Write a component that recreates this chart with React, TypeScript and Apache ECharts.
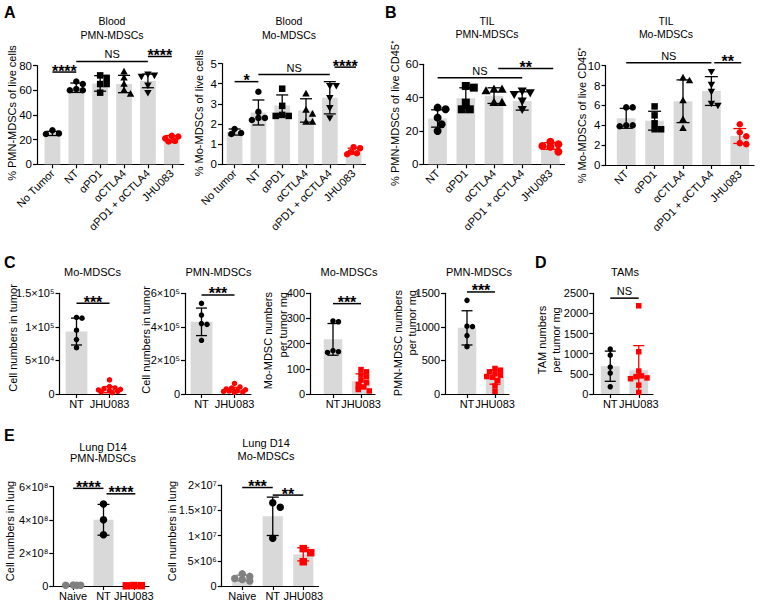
import React, { useEffect, useRef } from "react";
import * as echarts from "echarts";

// ---------------- DATA ----------------
const aPmnCats = ["No Tumor", "NT", "αPD1", "αCTLA4", "αPD1 + αCTLA4", "JHU083"];
const aPmnMeans = [25, 62, 65.5, 65, 67.5, 20.5];
const aPmnSds = [1.7, 3.8, 6.3, 7, 5.5, 2.8];
const aPmnPoints = [
  [27.5, 24.5, 25],
  [67, 65, 61, 60, 60],
  [72, 70, 65, 65, 58],
  [75, 70, 65, 60, 57],
  [73, 72, 71, 64, 58],
  [23, 22.5, 21, 19, 18.5],
];
const aPmnSig = [[0, 1, 74.7, "****"], [1, 4, 83.3, "NS"], [4, 5, 87.3, "****"]];

const aMoCats = ["No tumor", "NT", "αPD1", "αCTLA4", "αPD1 + αCTLA4", "JHU083"];
const aMoMeans = [1.6, 2.57, 2.92, 2.67, 3.3, 0.65];
const aMoSds = [0.15, 0.62, 0.52, 0.58, 0.8, 0.15];
const aMoPoints = [
  [1.75, 1.5, 1.55],
  [3.6, 2.6, 2.3, 2.3, 2.2],
  [3.75, 2.9, 2.45, 2.4, 2.4],
  [3.5, 2.7, 2.5, 2.1, 2.1],
  [3.9, 3.9, 3.3, 2.8, 2.3],
  [0.85, 0.8, 0.6, 0.5, 0.55],
];
const aMoSig = [[0, 1, 4.1, "*"], [1, 4, 4.45, "NS"], [4.2, 5.1, 4.82, "****"]];

const bCats = ["NT", "αPD1", "αCTLA4", "αPD1 + αCTLA4", "JHU083"];
const bPmnMeans = [27.5, 39.7, 41.2, 38, 11];
const bPmnSds = [5.2, 6.2, 4.7, 5.5, 2];
const bPmnPoints = [
  [34, 33, 28, 24, 20],
  [47, 46, 37, 33, 33],
  [45, 45, 44, 37, 37],
  [44, 43, 42, 38, 33],
  [13.5, 12, 11, 10.5, 7.5],
];
const bPmnSig = [[0, 3, 52, "NS"], [2.15, 4.1, 57.5, "**"]];

const bMoMeans = [4.7, 4.46, 6.42, 7.45, 2.92];
const bMoSds = [1.0, 0.95, 2.15, 1.45, 0.75];
const bMoPoints = [
  [5.8, 5.8, 4.0, 3.9, 4.0],
  [5.9, 5.0, 4.2, 3.6, 3.6],
  [8.8, 8.5, 6.5, 4.6, 3.7],
  [9.4, 8.1, 7.4, 6.2, 6.0],
  [4.1, 3.3, 2.9, 2.2, 2.1],
];
const bMoSig = [[0, 3, 10.3, "NS"], [3.1, 4.05, 10.3, "**"]];

const cCats = ["NT", "JHU083"];
const cMoCountMeans = [9.3e4, 6.5e3];
const cMoCountSds = [2e4, 4.5e3];
const cMoCountPoints = [
  [1.14e5, 1.13e5, 9.5e4, 8.1e4, 6.9e4],
  [2.1e4, 1.1e4, 9e3, 8e3, 7e3, 6e3, 5e3, 4e3, 3e3, 2e3],
];
const cMoCountSig = [[0, 1, 1.35e5, "***"]];

const cPmnCountMeans = [4.3e5, 2.6e4];
const cPmnCountSds = [8.2e4, 1.4e4];
const cPmnCountPoints = [
  [5.4e5, 4.7e5, 4.2e5, 4.15e5, 3.2e5],
  [6.3e4, 4.2e4, 3.5e4, 3e4, 2.5e4, 2e4, 1.8e4, 1.5e4, 1.2e4, 1e4],
];
const cPmnCountSig = [[0, 1, 5.9e5, "***"]];

const cMoMgMeans = [217, 52];
const cMoMgSds = [63, 28];
const cMoMgPoints = [
  [290, 287, 172, 165, 168],
  [97, 88, 76, 68, 55, 45, 38, 28, 18, 12],
];
const cMoMgSig = [[0, 1, 359, "***"]];

const cPmnMgMeans = [985, 251];
const cPmnMgSds = [255, 105];
const cPmnMgPoints = [
  [1395, 1010, 1005, 870, 705],
  [380, 355, 330, 300, 280, 260, 250, 200, 120, 40],
];
const cPmnMgSig = [[0, 1, 1520, "***"]];

const dTamMeans = [690, 590];
const dTamSds = [375, 610];
const dTamPoints = [
  [1115, 965, 670, 520, 180],
  [2190, 1050, 570, 450, 430, 400, 380, 220, 40],
];
const dTamSig = [[0, 1, 2380, "NS"]];

const eCats = ["Naive", "NT", "JHU083"];
const ePmnMeans = [5e6, 4.0e8, 2e6];
const ePmnSds = [1e6, 9.3e7, 1e6];
const ePmnPoints = [
  [6e6, 5e6, 4e6, 5e6],
  [4.95e8, 4.0e8, 3.1e8],
  [3e6, 2e6, 1e6],
];
const ePmnSig = [[0, 1, 5.9e8, "****"], [1.1, 2.05, 5.57e8, "****"]];

const eMoMeans = [1.6e6, 1.38e7, 6.27e6];
const eMoSds = [5.5e5, 3.8e6, 1.3e6];
const eMoPoints = [
  [2.4e6, 1.9e6, 1.5e6, 1.3e6, 1.0e6],
  [1.65e7, 1.56e7, 9.45e6],
  [7.4e6, 6.6e6, 4.8e6],
];
const eMoSig = [[0, 1, 1.95e7, "***"], [1, 2, 1.8e7, "**"]];

// ---------------- STYLE / LAYOUT ----------------
const FONT = "'Liberation Sans', Arial, Helvetica, sans-serif";
const BLK = "#000000";
const RED = "#ff0000";
const GRY = "#808080";
const BAR = "#d9d9d9";

const SUP: Record<string, string> = {
  "0": "⁰", "1": "¹", "2": "²", "3": "³", "4": "⁴",
  "5": "⁵", "6": "⁶", "7": "⁷", "8": "⁸", "9": "⁹",
};
function sciFmt(v: number) {
  if (v === 0) return "0";
  const e = Math.floor(Math.log10(v) + 1e-9);
  const m = Math.round((v / Math.pow(10, e)) * 10) / 10;
  return `${m}×10${String(e).split("").map((c) => SUP[c]).join("")}`;
}

type YName = { text: string; x: number; y: number; align: string };
type Panel = {
  cats: string[]; means: number[]; sds: number[]; points: number[][]; sig: any[][];
  yMax: number; yStep: number; sci?: boolean;
  markers: string[]; colors: string[];
  axisX: number; left: number; right: number; top: number; bottom: number;
  rotate: number; sym: number; cap: number;
  title: string[]; titleX: number; titleY: number[]; titleSize: number;
  yNames: YName[];
  tickSize: number; labelSize: number;
};

const PANELS: Panel[] = [
  {
    cats: aPmnCats, means: aPmnMeans, sds: aPmnSds, points: aPmnPoints, sig: aPmnSig,
    yMax: 80, yStep: 20, markers: ["circle", "circle", "rect", "tri", "dtri", "circle"],
    colors: [BLK, BLK, BLK, BLK, BLK, RED],
    axisX: 37, left: 40.5, right: 183.7, top: 65.5, bottom: 164.3, rotate: 45, sym: 6.5, cap: 12,
    title: ["Blood", "PMN-MDSCs"], titleX: 112, titleY: [21, 34.5], titleSize: 10.5,
    yNames: [{ text: "% PMN-MDSCs of live cells", x: 12, y: 113, align: "center" }],
    tickSize: 11.5, labelSize: 11,
  },
  {
    cats: aMoCats, means: aMoMeans, sds: aMoSds, points: aMoPoints, sig: aMoSig,
    yMax: 5, yStep: 1, markers: ["circle", "circle", "rect", "tri", "dtri", "circle"],
    colors: [BLK, BLK, BLK, BLK, BLK, RED],
    axisX: 222, left: 222.7, right: 365.5, top: 63.5, bottom: 164.3, rotate: 45, sym: 6.5, cap: 12,
    title: ["Blood", "Mo-MDSCs"], titleX: 289, titleY: [21, 34.5], titleSize: 10.5,
    yNames: [{ text: "% Mo-MDSCs of live cells", x: 199, y: 113, align: "center" }],
    tickSize: 11.5, labelSize: 11,
  },
  {
    cats: bCats, means: bPmnMeans, sds: bPmnSds, points: bPmnPoints, sig: bPmnSig,
    yMax: 60, yStep: 20, markers: ["circle", "rect", "tri", "dtri", "circle"],
    colors: [BLK, BLK, BLK, BLK, RED],
    axisX: 423.3, left: 423.5, right: 564.5, top: 64.3, bottom: 164.3, rotate: 45, sym: 8, cap: 13,
    title: ["TIL", "PMN-MDSCs"], titleX: 487, titleY: [20.5, 34], titleSize: 10.5,
    yNames: [{ text: "% PMN-MDSCs of live CD45⁺", x: 395, y: 113, align: "center" }],
    tickSize: 11.5, labelSize: 11,
  },
  {
    cats: bCats, means: bMoMeans, sds: bMoSds, points: bMoPoints, sig: bMoSig,
    yMax: 10, yStep: 2, markers: ["circle", "rect", "tri", "dtri", "circle"],
    colors: [BLK, BLK, BLK, BLK, RED],
    axisX: 605.5, left: 612, right: 754, top: 65.7, bottom: 165, rotate: 45, sym: 6.5, cap: 13,
    title: ["TIL", "Mo-MDSCs"], titleX: 666, titleY: [20.5, 34], titleSize: 10.5,
    yNames: [{ text: "% Mo-MDSCs of live CD45⁺", x: 582, y: 115, align: "center" }],
    tickSize: 11.5, labelSize: 11,
  },
  {
    cats: cCats, means: cMoCountMeans, sds: cMoCountSds, points: cMoCountPoints, sig: cMoCountSig,
    yMax: 1.5e5, yStep: 5e4, sci: true, markers: ["circle", "circle"], colors: [BLK, RED],
    axisX: 59.5, left: 60, right: 126, top: 293.3, bottom: 394, rotate: 0, sym: 5.5, cap: 11,
    title: ["Mo-MDSCs"], titleX: 92.5, titleY: [272], titleSize: 11,
    yNames: [{ text: "Cell numbers in tumor", x: 13, y: 338, align: "center" }],
    tickSize: 11, labelSize: 11,
  },
  {
    cats: cCats, means: cPmnCountMeans, sds: cPmnCountSds, points: cPmnCountPoints, sig: cPmnCountSig,
    yMax: 6e5, yStep: 2e5, sci: true, markers: ["circle", "circle"], colors: [BLK, RED],
    axisX: 185, left: 185, right: 251, top: 293.3, bottom: 394, rotate: 0, sym: 5.5, cap: 11,
    title: ["PMN-MDSCs"], titleX: 218.5, titleY: [272], titleSize: 11,
    yNames: [{ text: "Cell numbers in tumor", x: 146, y: 340, align: "center" }],
    tickSize: 11, labelSize: 11,
  },
  {
    cats: cCats, means: cMoMgMeans, sds: cMoMgSds, points: cMoMgPoints, sig: cMoMgSig,
    yMax: 400, yStep: 100, markers: ["circle", "rect"], colors: [BLK, RED],
    axisX: 310, left: 319, right: 375, top: 293.3, bottom: 394, rotate: 0, sym: 5.5, cap: 11,
    title: ["Mo-MDSCs"], titleX: 349, titleY: [272], titleSize: 11,
    yNames: [
      { text: "Mo-MDSC numbers", x: 268, y: 292, align: "right" },
      { text: "per tumor mg", x: 283, y: 292, align: "right" },
    ],
    tickSize: 11, labelSize: 11,
  },
  {
    cats: cCats, means: cPmnMgMeans, sds: cPmnMgSds, points: cPmnMgPoints, sig: cPmnMgSig,
    yMax: 1500, yStep: 500, markers: ["circle", "rect"], colors: [BLK, RED],
    axisX: 445, left: 453, right: 509, top: 293.3, bottom: 394, rotate: 0, sym: 5.5, cap: 11,
    title: ["PMN-MDSCs"], titleX: 479, titleY: [272], titleSize: 11,
    yNames: [
      { text: "PMN-MDSC numbers", x: 398, y: 290, align: "right" },
      { text: "per tumor mg", x: 412, y: 290, align: "right" },
    ],
    tickSize: 11, labelSize: 11,
  },
  {
    cats: cCats, means: dTamMeans, sds: dTamSds, points: dTamPoints, sig: dTamSig,
    yMax: 2500, yStep: 500, markers: ["circle", "rect"], colors: [BLK, RED],
    axisX: 593.3, left: 596, right: 653, top: 293.3, bottom: 394, rotate: 0, sym: 5.5, cap: 11,
    title: ["TAMs"], titleX: 625, titleY: [272], titleSize: 11,
    yNames: [
      { text: "TAM numbers", x: 542, y: 340, align: "center" },
      { text: "per tumor mg", x: 555.5, y: 340, align: "center" },
    ],
    tickSize: 11, labelSize: 11,
  },
  {
    cats: eCats, means: ePmnMeans, sds: ePmnSds, points: ePmnPoints, sig: ePmnSig,
    yMax: 6e8, yStep: 2e8, sci: true, markers: ["circle", "circle", "rect"], colors: [GRY, BLK, RED],
    axisX: 53.3, left: 58, right: 149, top: 486.7, bottom: 586, rotate: 0, sym: 7.5, cap: 12,
    title: ["Lung D14", "PMN-MDSCs"], titleX: 103, titleY: [446.5, 458], titleSize: 11,
    yNames: [{ text: "Cell numbers in lung", x: 10, y: 531, align: "center" }],
    tickSize: 11, labelSize: 11,
  },
  {
    cats: eCats, means: eMoMeans, sds: eMoSds, points: eMoPoints, sig: eMoSig,
    yMax: 2e7, yStep: 5e6, sci: true, markers: ["circle", "circle", "rect"], colors: [GRY, BLK, RED],
    axisX: 221.7, left: 227, right: 318.5, top: 485, bottom: 586, rotate: 0, sym: 7.5, cap: 12,
    title: ["Lung D14", "Mo-MDSCs"], titleX: 266, titleY: [443, 455.5], titleSize: 11,
    yNames: [{ text: "Cell numbers in lung", x: 172, y: 531, align: "center" }],
    tickSize: 11, labelSize: 11,
  },
];

const LETTERS: [string, number, number][] = [
  ["A", 4, 12], ["B", 385, 12], ["C", 4, 262], ["D", 535, 262.5], ["E", 4, 435],
];

// compact beeswarm: horizontal pixel offsets, limited to a part of the band
function swarm(vals: number[], yMax: number, h: number, d: number, maxOff: number) {
  const order = vals.map((_, i) => i).sort((a, b) => vals[b] - vals[a]);
  const placed: number[][] = [];
  const out = new Array(vals.length).fill(0);
  const step = d * 0.5;
  const minD = d * 0.9;
  for (const i of order) {
    const y = (vals[i] / yMax) * h;
    const cands: number[] = [0];
    for (let k = 1; k * step <= maxOff + 1e-6; k++) cands.push(k * step, -k * step);
    let chosen = 0;
    let best = -1;
    let found = false;
    for (const off of cands) {
      const md = placed.length ? Math.min(...placed.map((p) => Math.hypot(p[0] - off, p[1] - y))) : Infinity;
      if (md >= minD) { chosen = off; found = true; break; }
      if (md > best) { best = md; chosen = off; }
    }
    if (!found && best < 0) chosen = 0;
    placed.push([chosen, y]);
    out[i] = chosen;
  }
  return out;
}

function buildOption() {
  const grid: any[] = [];
  const xAxis: any[] = [];
  const yAxis: any[] = [];
  const series: any[] = [];
  const graphic: any[] = [];
  const axisLineStyle = { color: BLK, width: 1.2 };

  PANELS.forEach((p, i) => {
    const fg = 2 * i;
    const dg = 2 * i + 1;
    const h = p.bottom - p.top;
    const band = (p.right - p.left) / p.cats.length;
    grid.push({ left: p.axisX, top: p.top, width: p.right - p.axisX, height: h, containLabel: false, outerBoundsMode: "none" });
    grid.push({ left: p.left, top: p.top, width: p.right - p.left, height: h, containLabel: false, outerBoundsMode: "none" });

    xAxis.push({
      gridIndex: fg, type: "value", min: 0, max: 1,
      axisLine: { show: true, lineStyle: axisLineStyle },
      axisTick: { show: false }, axisLabel: { show: false }, splitLine: { show: false },
    });
    yAxis.push({
      gridIndex: fg, type: "value", min: 0, max: p.yMax, interval: p.yStep,
      axisLine: { show: true, lineStyle: axisLineStyle },
      axisTick: { show: true, length: 4, lineStyle: axisLineStyle },
      axisLabel: {
        color: BLK, fontSize: p.tickSize, fontFamily: FONT, margin: 5,
        formatter: p.sci ? (v: number) => sciFmt(v) : (v: number) => String(v),
      },
      splitLine: { show: false },
    });
    xAxis.push({
      gridIndex: dg, type: "category", data: p.cats, boundaryGap: true,
      axisLine: { show: false },
      axisTick: { show: true, alignWithLabel: true, length: 4, lineStyle: axisLineStyle },
      axisLabel: {
        interval: 0, rotate: p.rotate, color: BLK, fontSize: p.labelSize, fontFamily: FONT,
        margin: p.rotate ? 7 : 4,
      },
      splitLine: { show: false },
    });
    yAxis.push({ gridIndex: dg, type: "value", min: 0, max: p.yMax, show: false });

    // bars (means)
    series.push({
      type: "bar", xAxisIndex: dg, yAxisIndex: dg, data: p.means, barWidth: "66%",
      itemStyle: { color: BAR }, silent: true, z: 1,
    });

    // individual points
    const pts: number[][] = [];
    p.points.forEach((vals, g) => {
      const offs = swarm(vals, p.yMax, h, p.sym, band * 0.36);
      vals.forEach((v, k) => pts.push([g, v, offs[k], g]));
    });
    series.push({
      type: "custom", xAxisIndex: dg, yAxisIndex: dg, data: pts, z: 3, silent: true,
      renderItem: (_params: any, api: any) => {
        const c = api.coord([api.value(0), api.value(1)]);
        const x = c[0] + api.value(2);
        const y = c[1];
        const g = api.value(3);
        const r = p.sym / 2;
        const col = p.colors[g];
        const m = p.markers[g];
        if (m === "circle") return { type: "circle", shape: { cx: x, cy: y, r }, style: { fill: col } };
        if (m === "rect") return { type: "rect", shape: { x: x - r, y: y - r, width: 2 * r, height: 2 * r }, style: { fill: col } };
        if (m === "tri")
          return { type: "polygon", shape: { points: [[x, y - r * 1.2], [x + r * 1.15, y + r * 0.85], [x - r * 1.15, y + r * 0.85]] }, style: { fill: col } };
        return { type: "polygon", shape: { points: [[x, y + r * 1.2], [x + r * 1.15, y - r * 0.85], [x - r * 1.15, y - r * 0.85]] }, style: { fill: col } };
      },
    });

    // error bars (mean ± SD)
    series.push({
      type: "custom", xAxisIndex: dg, yAxisIndex: dg, z: 4, silent: true,
      data: p.means.map((m, g) => [g, m, p.sds[g], g]),
      renderItem: (_params: any, api: any) => {
        const gi = api.value(0);
        const m = api.value(1);
        const s = api.value(2);
        const col = p.colors[api.value(3)];
        const lo = Math.max(0, m - s);
        const top = api.coord([gi, m + s]);
        const bot = api.coord([gi, lo]);
        const x = top[0];
        const hw = p.cap / 2;
        const st = { stroke: col, lineWidth: 1.3 };
        const children: any[] = [
          { type: "line", shape: { x1: x, y1: top[1], x2: x, y2: bot[1] }, style: st },
          { type: "line", shape: { x1: x - hw, y1: top[1], x2: x + hw, y2: top[1] }, style: st },
        ];
        if (m - s > 0) children.push({ type: "line", shape: { x1: x - hw, y1: bot[1], x2: x + hw, y2: bot[1] }, style: st });
        return { type: "group", children };
      },
    });

    // significance lines
    series.push({
      type: "custom", xAxisIndex: dg, yAxisIndex: dg, z: 5, silent: true, clip: false,
      data: p.sig.map((s) => [0, s[2]]),
      renderItem: (params: any, api: any) => {
        const s = p.sig[params.dataIndex];
        const c0 = api.coord([0, s[2]]);
        const c1 = api.coord([1, s[2]]);
        const bw = c1[0] - c0[0];
        const xa = c0[0] + (s[0] as number) * bw;
        const xb = c0[0] + (s[1] as number) * bw;
        const y = c0[1];
        const label = s[3] as string;
        const stars = label.indexOf("*") >= 0;
        return {
          type: "group",
          children: [
            { type: "line", shape: { x1: xa, y1: y, x2: xb, y2: y }, style: { stroke: BLK, lineWidth: 1.5 } },
            {
              type: "text", x: (xa + xb) / 2, y: stars ? y - 1 : y - 7,
              style: {
                text: label, fill: BLK, textAlign: "center", textVerticalAlign: "middle",
                font: stars ? `bold 16px ${FONT}` : `11px ${FONT}`,
              },
            },
          ],
        };
      },
    });

    // titles
    p.title.forEach((t, k) => {
      graphic.push({
        type: "text", x: p.titleX, y: p.titleY[k], silent: true,
        style: { text: t, fill: BLK, font: `${p.titleSize}px ${FONT}`, textAlign: "center", textVerticalAlign: "middle" },
      });
    });
    // y axis names
    p.yNames.forEach((n) => {
      graphic.push({
        type: "text", x: n.x, y: n.y, rotation: Math.PI / 2, silent: true,
        style: { text: n.text, fill: BLK, font: `11px ${FONT}`, textAlign: n.align, textVerticalAlign: "middle" },
      });
    });
  });

  LETTERS.forEach(([t, x, y]) => {
    graphic.push({
      type: "text", x, y, silent: true,
      style: { text: t, fill: BLK, font: `bold 16px ${FONT}`, textAlign: "left", textVerticalAlign: "middle" },
    });
  });

  return {
    animation: false,
    backgroundColor: "#ffffff",
    textStyle: { fontFamily: FONT },
    grid, xAxis, yAxis, series, graphic,
  };
}

export default function App() {
  const ref = useRef<HTMLDivElement>(null);
  useEffect(() => {
    const chart = echarts.init(ref.current as HTMLDivElement, null, { renderer: "svg" });
    chart.setOption(buildOption() as any);
    return () => chart.dispose();
  }, []);
  return (
    <div
      ref={ref}
      style={{ position: "absolute", left: 0, top: 0, width: 763, height: 605, background: "#fff" }}
    />
  );
}
